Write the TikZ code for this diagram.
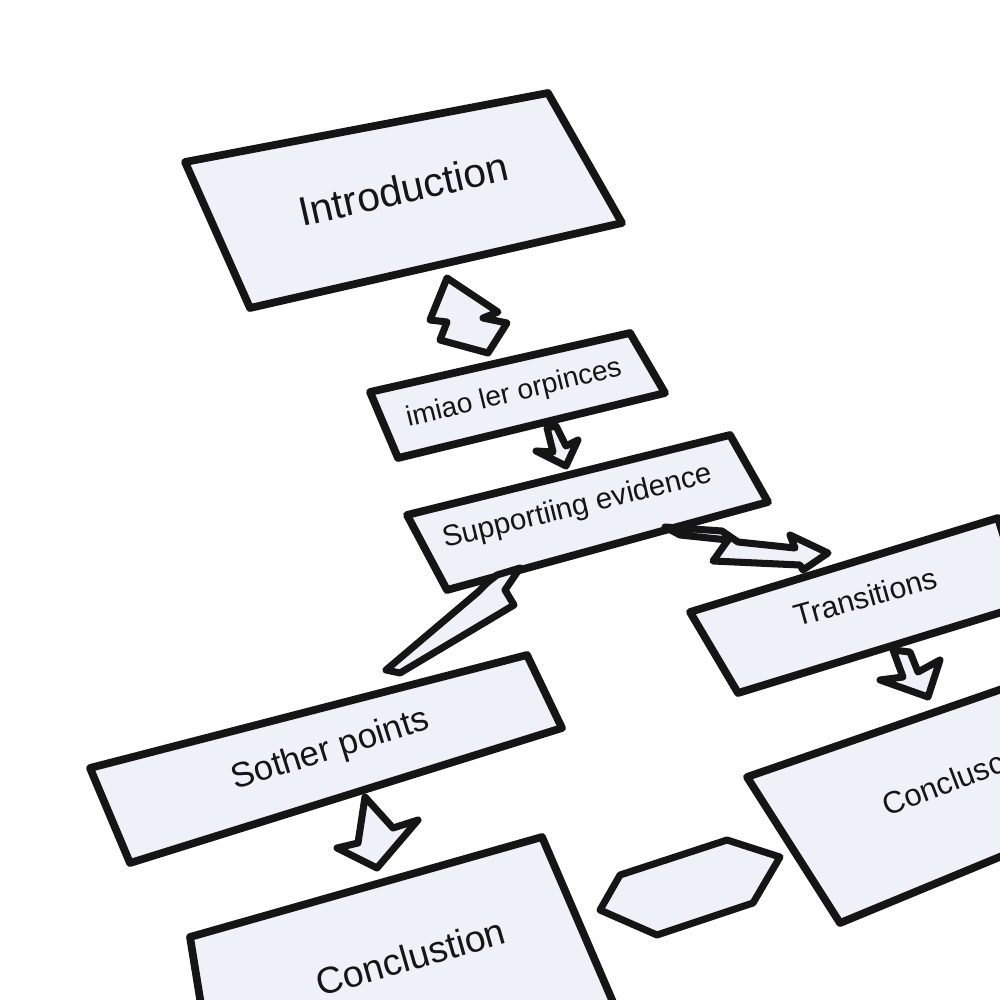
\documentclass[tikz,border=0pt]{standalone}
\usepackage{fontspec}
\setmainfont{Liberation Sans}
\definecolor{boxfill}{HTML}{EEF1F8}
\definecolor{ink}{HTML}{151515}
\tikzset{
	box/.style={draw=ink, fill=boxfill, line width=2.2pt, line join=round, line cap=round},
	blockarrow/.style={draw=ink, fill=boxfill, line width=2pt, line join=round, line cap=round},
	lbl/.style={inner sep=0pt, anchor=base west, text=ink},
}
\begin{document}
\begin{tikzpicture}[x=0.01cm, y=-0.01cm]
	\useasboundingbox (0,0) rectangle (1000,1000);
	\fill[white] (0,0) rectangle (1000,1000);
	\clip (0,0) rectangle (1000,1000);
	% boxes
	\draw[box] (185,162) -- (548,93) -- (622,223) -- (250,308) -- cycle;
	\draw[box] (370,392) -- (630,333) -- (665,393) -- (398,458) -- cycle;
	\draw[box] (407,515) -- (730,435) -- (768,502) -- (447,590) -- cycle;
	\draw[box] (690,612) -- (998,518) -- (1025,605) -- (738,693) -- cycle;
	\draw[box] (90,768) -- (527,655) -- (562,728) -- (130,863) -- cycle;
	\draw[box] (190,937) -- (542,837) -- (625,1030) -- (210,1060) -- cycle;
	\draw[box] (747,777) -- (1060,669) -- (1060,832) -- (840,923) -- cycle;
	% labels
	\node[lbl, rotate=12.7, font=\fontsize{11.6}{12}\selectfont] (intro) at (302,227) {Introduction};
	\node[lbl, rotate=13.6, font=\fontsize{8}{9}\selectfont] (minor) at (408,427) {imiao ler orpinces};
	\node[lbl, rotate=13.8, font=\fontsize{8.4}{9}\selectfont] (support) at (445,548) {Supportiing evidence};
	\node[lbl, rotate=15.6, font=\fontsize{8.6}{9}\selectfont] (trans) at (797,627) {Transitions};
	\node[lbl, rotate=17.5, font=\fontsize{9.9}{10}\selectfont] (other) at (235,790) {Sother points};
	\node[lbl, rotate=16, font=\fontsize{10.6}{11}\selectfont] (concl) at (320,997) {Conclustion};
	\node[lbl, rotate=21, font=\fontsize{8.8}{9}\selectfont] (conclR) at (887,817) {Conclusc};
	% block arrows
	\draw[blockarrow] (447,278) -- (498,312) -- (483,318) -- (507,323) -- (488,353) -- (440,340) -- (447,322) -- (430,320) -- cycle;
	\draw[blockarrow] (547,428) -- (553,452) -- (536,451) -- (566,466) -- (578,440) -- (566,446) -- (556,426) -- cycle;
	\draw[blockarrow] (665,527) -- (722,531) -- (738,542) -- (795,548) -- (790,535) -- (828,553) -- (803,570) -- (800,565) -- (713,561) -- (728,540) -- (680,535) -- cycle;
	\draw[blockarrow] (386,670) -- (478,592) -- (488,582) -- (497,575) -- (520,568) -- (505,590) -- (514,605) -- (400,673) -- cycle;
	\draw[blockarrow] (893,650) -- (910,652) -- (918,672) -- (940,660) -- (928,697) -- (880,680) -- (903,677) -- cycle;
	\draw[blockarrow] (365,797) -- (393,828) -- (418,820) -- (377,868) -- (337,848) -- (358,843) -- cycle;
	\draw[blockarrow] (620,875) -- (727,840) -- (780,857) -- (753,903) -- (657,935) -- (600,910) -- cycle;
\end{tikzpicture}
\end{document}
